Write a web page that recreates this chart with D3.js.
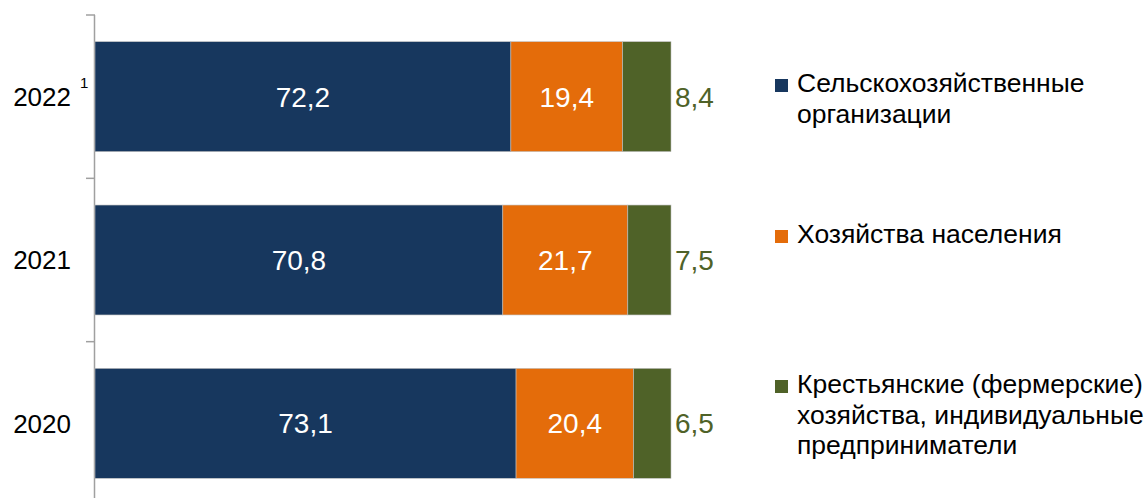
<!DOCTYPE html>
<html>
<head>
<meta charset="utf-8">
<script src="https://cdn.jsdelivr.net/npm/d3@7"></script>
<style>
  body { margin: 0; background: #fff; }
  svg { display: block; font-family: "Liberation Sans", Arial, sans-serif; }
</style>
</head>
<body>
<svg id="chart" width="1146" height="498"></svg>
<script>
// years, top to bottom
var years = ["2022", "2021", "2020"];
var yearNotes = ["1", "", ""];
// shares, %
var agroOrgs = [72.2, 70.8, 73.1];
var households = [19.4, 21.7, 20.4];
var farmers = [8.4, 7.5, 6.5];

var seriesNames = [
  ["Сельскохозяйственные", "организации"],
  ["Хозяйства населения"],
  ["Крестьянские (фермерские)", "хозяйства, индивидуальные", "предприниматели"]
];
var colors = ["#17375E", "#E46C0A", "#4F6228"];

var svg = d3.select("#chart");

var x = d3.scaleLinear().domain([0, 100]).range([95, 671]);
var y = d3.scaleBand().domain(years).range([15, 505]).paddingInner(0.327).paddingOuter(0.1635);
var yTicks = d3.scaleBand().domain(years).range([15, 505]);

// build stacked rows
var rows = years.map(function(yr, i) {
  return { year: yr, values: [agroOrgs[i], households[i], farmers[i]] };
});
var stack = d3.stack().keys([0, 1, 2]).value(function(d, k) { return d.values[k]; });
var layers = stack(rows);

// axis line + ticks at band boundaries
var axisG = svg.append("g");
axisG.append("line")
  .attr("x1", 94.5).attr("x2", 94.5)
  .attr("y1", yTicks.range()[0]).attr("y2", yTicks.range()[1])
  .attr("stroke", "#a0a0a0").attr("stroke-width", 1.5);
var boundaries = years.map(function(d) { return yTicks(d); }).concat([yTicks.range()[1]]);
axisG.selectAll("line.tick").data(boundaries).enter().append("line")
  .attr("class", "tick")
  .attr("x1", 86).attr("x2", 95)
  .attr("y1", function(d) { return d; }).attr("y2", function(d) { return d; })
  .attr("stroke", "#a0a0a0").attr("stroke-width", 1.5);

// bars
layers.forEach(function(layer, k) {
  svg.append("g").selectAll("rect").data(layer).enter().append("rect")
    .attr("x", function(d) { return x(d[0]); })
    .attr("y", function(d) { return y(d.data.year); })
    .attr("width", function(d) { return x(d[1]) - x(d[0]); })
    .attr("height", y.bandwidth())
    .attr("fill", colors[k])
    .attr("stroke", "#bfbfbf").attr("stroke-width", 0.6);
});

// value labels: inside for first two, outside for the last one
layers.forEach(function(layer, k) {
  svg.append("g").selectAll("text").data(layer).enter().append("text")
    .attr("x", function(d) { return k < 2 ? (x(d[0]) + x(d[1])) / 2 : x(d[1]) + 4; })
    .attr("y", function(d) { return y(d.data.year) + y.bandwidth() / 2; })
    .attr("dy", "0.36em")
    .attr("text-anchor", k < 2 ? "middle" : "start")
    .attr("font-size", 28)
    .attr("fill", k < 2 ? "#fff" : colors[2])
    .text(function(d) { return String(d.data.values[k]).replace(".", ","); });
});

// year labels
var yearG = svg.append("g");
years.forEach(function(yr, i) {
  var cy = y(yr) + y.bandwidth() / 2;
  yearG.append("text")
    .attr("x", 71).attr("y", cy).attr("dy", "0.36em")
    .attr("text-anchor", "end").attr("font-size", 26).attr("fill", "#000")
    .text(yr);
  if (yearNotes[i]) {
    yearG.append("text")
      .attr("x", 80).attr("y", cy - 9)
      .attr("font-size", 15).attr("fill", "#000")
      .text(yearNotes[i]);
  }
});

// legend
var legendTops = [92, 243, 393];
var legend = svg.append("g");
seriesNames.forEach(function(lines, k) {
  var base = legendTops[k];
  legend.append("rect")
    .attr("x", 775).attr("y", base - 13)
    .attr("width", 13).attr("height", 13)
    .attr("fill", colors[k]);
  var t = legend.append("text")
    .attr("x", 797).attr("y", base)
    .attr("font-size", 26.5).attr("fill", "#000");
  lines.forEach(function(line, j) {
    t.append("tspan").attr("x", 797).attr("y", base + j * 30.5).text(line);
  });
});
</script>
</body>
</html>
